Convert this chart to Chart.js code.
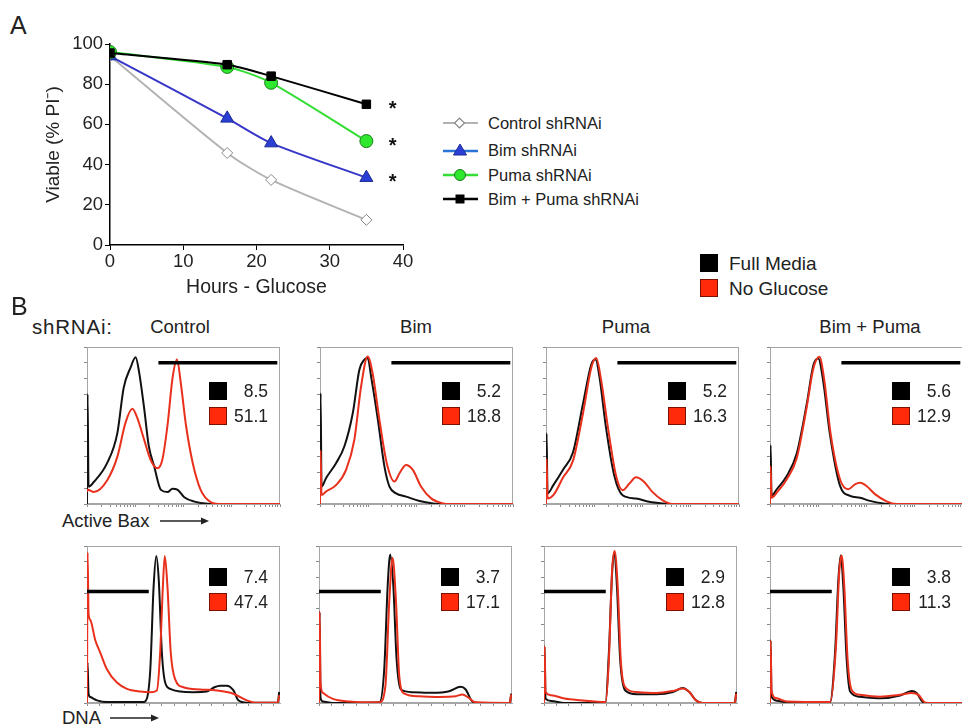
<!DOCTYPE html>
<html lang="en">
<head>
  <meta charset="UTF-8">
  <title>Bim / Puma shRNAi - glucose withdrawal</title>
  <script src="https://cdn.jsdelivr.net/npm/chart.js"></script>
  <style>
    body{
        margin:0;
        width:962px;
        height:726px;
        overflow:hidden;
        position:relative;
        background:#fff;
        font-family:"Liberation Sans", Arial, sans-serif;
        color:#222;
    }
    .abs{ position:absolute; }
    .lbl{ position:absolute; white-space:nowrap; line-height:1; }
    .title{ position:absolute; width:140px; text-align:center; font-size:18.5px; line-height:1; }
    .legA{ position:absolute; left:443px; font-size:16.5px; display:flex; align-items:center; height:20px; white-space:nowrap; }
    .legA svg{ margin-right:9px; }
    .sq{ position:absolute; width:16px; height:16px; border:1px solid #000; }
    .num{ position:absolute; width:50px; text-align:right; font-size:17.5px; line-height:1; }
  </style>
</head>
<body>
  <div class="lbl" style="left:10px;top:13px;font-size:25px">A</div>
  <canvas id="viability" class="abs" style="left:0;top:0" width="420" height="300"></canvas>

  <!-- legend panel A -->
  <div class="legA" style="top:113px">
    <svg width="36" height="16"><line x1="0" y1="8" x2="35" y2="8" stroke="#b3b3b3" stroke-width="2"/><rect x="13" y="4.5" width="7" height="7" transform="rotate(45 16.5 8)" fill="#fff" stroke="#888" stroke-width="1.2"/></svg>
    <span>Control shRNAi</span>
  </div>
  <div class="legA" style="top:140px">
    <svg width="36" height="16"><line x1="0" y1="9" x2="35" y2="9" stroke="#2a74d8" stroke-width="2.5"/><polygon points="17,2 23.5,13 10.5,13" fill="#2b3fd6" stroke="#1a2a90" stroke-width="1"/></svg>
    <span>Bim shRNAi</span>
  </div>
  <div class="legA" style="top:165px">
    <svg width="36" height="16"><line x1="0" y1="8" x2="35" y2="8" stroke="#33dd33" stroke-width="2.5"/><circle cx="17" cy="8" r="5.5" fill="#2ee82e" stroke="#1f7a1f" stroke-width="1"/></svg>
    <span>Puma shRNAi</span>
  </div>
  <div class="legA" style="top:189px">
    <svg width="36" height="16"><line x1="0" y1="8" x2="35" y2="8" stroke="#000" stroke-width="2.5"/><rect x="12.5" y="3.5" width="9" height="9" fill="#000"/></svg>
    <span>Bim + Puma shRNAi</span>
  </div>

  <!-- legend panel B -->
  <div class="abs" style="left:700px;top:254px;width:18px;height:18px;background:#000"></div>
  <div class="lbl" style="left:729px;top:254px;font-size:19px">Full Media</div>
  <div class="abs" style="left:700px;top:279px;width:16px;height:16px;background:#ff2a0a;border:1px solid #7a1000"></div>
  <div class="lbl" style="left:729px;top:279px;font-size:19px">No Glucose</div>

  <div class="lbl" style="left:11px;top:294px;font-size:25px">B</div>
  <div class="lbl" style="left:32px;top:317px;font-size:20.5px;letter-spacing:0.8px">shRNAi:</div>
  <div class="title" style="left:110px;top:318px">Control</div>
  <div class="title" style="left:346px;top:318px">Bim</div>
  <div class="title" style="left:556px;top:318px">Puma</div>
  <div class="title" style="left:800px;top:318px">Bim + Puma</div>

  <div class="lbl" style="left:62px;top:512px;font-size:18.5px">Active Bax</div>
  <svg class="abs" style="left:160px;top:515px" width="50" height="12"><line x1="0" y1="6" x2="44" y2="6" stroke="#222" stroke-width="1.3"/><polygon points="49,6 41,2.5 41,9.5" fill="#222"/></svg>
  <div class="lbl" style="left:62px;top:709px;font-size:18.5px">DNA</div>
  <svg class="abs" style="left:110px;top:712px" width="50" height="12"><line x1="0" y1="6" x2="44" y2="6" stroke="#222" stroke-width="1.3"/><polygon points="49,6 41,2.5 41,9.5" fill="#222"/></svg>

  <script>
    // ---- panel A: viability over time ----
    const hours = [0, 16, 22, 35];
    const controlViable = [94, 45.8, 32.4, 12.5];
    const bimViable = [94, 63, 50.7, 33.5];
    const pumaViable = [96, 88.6, 80.7, 51.7];
    const bimPumaViable = [95.5, 89.7, 84, 70];
    const starHour = 38.6;               // where the * marks sit
    const starViable = [70, 51.7, 33.5];

    // ---- panel B: % in gate (Full Media, No Glucose) ----
    const groups = ['Control', 'Bim', 'Puma', 'Bim + Puma'];
    const baxFullPct = ['8.5', '5.2', '5.2', '5.6'];
    const baxNoGlcPct = ['51.1', '18.8', '16.3', '12.9'];
    const dnaFullPct = ['7.4', '3.7', '2.9', '3.8'];
    const dnaNoGlcPct = ['47.4', '17.1', '12.8', '11.3'];

    // gates (channel 0-100, % of max)
    const baxGateX = [37, 98.6], baxGateY = 90;
    const dnaGateX = [0, 32], dnaGateY = 71;

    // histograms, [channel, % of max]
    const baxControlFull = [[0,0],[0.3,70],[0.8,11],[3.5,14],[10.4,26],[15.7,45],[19,74],[22.6,87],[25.2,93.5],[27,84],[29.6,61],[32,37],[34.8,24],[38.3,9],[41.7,7.6],[44.3,9.7],[47,9],[50.4,4.3],[55.7,1.5],[62.6,0.2],[70,0],[100,0]];
    const baxControlNoGlc = [[0,8],[0.5,9],[3.5,7.6],[10.4,15],[15.7,30],[20,52],[23.5,60.6],[26,55],[29.6,41],[33,28],[36.5,22.7],[39,28],[41.7,50],[44.3,80],[46.6,92],[48.7,76],[51.3,50],[54.8,26],[59,8.7],[64.3,1],[68,0],[100,0]];
    const baxBimFull = [[0,0],[0.3,70.6],[0.8,11],[3.1,16.4],[8.3,26],[12.6,36.6],[17,58],[20.4,85.5],[23,92],[24.7,93],[26.5,81],[30,53.6],[33.4,23.8],[36,11],[39.4,6.8],[44.6,4.7],[51.6,1.9],[58.5,0.4],[63,0],[100,0]];
    const baxBimNoGlc = [[0,0],[0.3,34],[0.8,5.7],[3.1,7.9],[8.3,12],[13.5,21.7],[17.8,40.9],[21.3,75],[24.7,94],[27.3,83],[30.8,53.6],[34.6,26],[38.6,14.3],[41.2,19.6],[44.6,24.9],[48.1,21.7],[52.4,11],[57.6,3.6],[63.7,0.4],[67,0],[100,0]];
    const baxPumaFull = [[0,0],[0.3,45],[0.8,6.7],[3.8,12],[8.9,22],[14,33],[19.2,64],[23.5,89],[25.7,92],[27.7,81],[31,49.5],[35.4,18],[39.7,5.6],[46.6,3.5],[53.4,1.5],[60.3,0.4],[65,0],[100,0]];
    const baxPumaNoGlc = [[0,0],[0.3,28.6],[0.8,3.5],[3.8,5.6],[8.9,17],[14,27.6],[19.2,58],[23.5,87],[26,93],[28.6,78.7],[32,49.5],[36.3,18],[39.7,8.8],[43.2,13],[46.6,17],[50.9,14],[55.1,7.7],[60.3,2.5],[65.4,0],[100,0]];
    const baxBimPumaFull = [[0,0],[0.3,37.5],[0.8,5.2],[3.5,9.4],[8.6,17.7],[13.8,32],[19,63.5],[22.5,88.5],[25,92.7],[27.6,78],[31,44.8],[36.3,11.5],[41.5,5.2],[46.6,4],[51.8,2],[58.7,0.4],[63,0],[100,0]];
    const baxBimPumaNoGlc = [[0,0],[0.3,24],[0.8,4],[3.5,7.3],[8.6,15.6],[13.8,29],[19,61.5],[22.5,86.5],[25.6,93.8],[28,80],[31.4,44.8],[36.3,15.6],[40.6,9.4],[44,12.5],[46.6,13.5],[50,11.5],[54.4,6.3],[60.4,1.7],[65.6,0],[100,0]];

    const dnaControlFull = [[0,0],[0.3,25.7],[0.8,5.9],[1.7,3.8],[5.2,1.7],[10.3,0.6],[29.3,0.6],[31,2.7],[32.8,21.5],[34.5,73.8],[35.9,93.7],[37.2,78],[38.8,32],[40.5,13],[43.1,9],[48.3,7.3],[55.2,6.9],[62,7.3],[66,10],[69,11],[72.4,11],[75.9,8],[78.4,1.7],[82.8,0.2],[98.8,0.2],[99.6,7]];
    const dnaControlNoGlc = [[0,0],[0.3,96],[0.8,57],[1.7,53],[4.3,40],[6.9,32],[10.3,21.5],[15.5,13],[20.7,9],[27.6,7.3],[32.8,6.9],[36.2,8],[37.9,32],[39.3,73.8],[40.3,93.7],[41.7,73.8],[43.4,32],[45.7,15],[50,10],[58.6,8.6],[67.2,8],[75.9,5.9],[82.8,1.7],[88,0.2],[98.8,0.2],[99.6,5]];
    const dnaBimFull = [[0,0],[0.3,58],[0.8,3.2],[2,1],[7.2,0],[31.3,0.4],[33.8,21.5],[35.6,75],[36.9,94.6],[38.5,75],[40.2,28],[42.4,8.6],[48.5,6.9],[58.8,6.5],[67.4,7.5],[73.4,10.3],[76,8.6],[79.4,1],[82.8,0],[98.8,0],[99.6,6]];
    const dnaBimNoGlc = [[0,0],[0.3,58],[0.8,13],[2,6.5],[7.2,2.6],[15.8,1],[31.3,0.4],[34.4,10.8],[36.4,64.5],[38.1,92.5],[39.9,64.5],[41.6,17],[44.2,6],[51.9,4.3],[62.2,3.9],[70.8,4.3],[74.2,5.4],[77.7,3.2],[81.1,0.4],[98.8,0],[99.6,5.4]];
    const dnaPumaFull = [[0,0],[0.3,36],[0.8,2.8],[3.7,1.3],[10.6,0],[31.9,0.6],[33.6,31.6],[35.3,83],[36.5,95.7],[37.8,74],[39.5,27],[42.1,8],[48,5.6],[58.3,5.6],[66.8,7],[71.9,9.6],[75.3,7],[78.7,1.7],[82.1,0],[98.8,0],[99.6,7]];
    const dnaPumaNoGlc = [[0,0],[0.3,36],[0.8,7],[3.7,5],[10.6,2.8],[19,1.7],[31.9,0.6],[33.6,27],[35.3,85],[36.6,96.8],[38.2,74],[39.9,25],[42.9,9],[48,7],[58.3,6.4],[66.8,7.7],[71.9,9.2],[75.3,7],[78.7,1.7],[82.1,0],[98.8,0],[99.6,6]];
    const dnaBimPumaFull = [[0,0],[0.3,40],[0.8,4],[3.5,1.5],[8.6,0.4],[31.1,0.4],[33.7,32],[35.4,78],[36.6,94],[38,74],[39.7,28],[41.5,7.3],[46.6,4],[57,3],[67.4,4.8],[73.4,7.7],[76,6.3],[79.4,0.4],[82,0],[100,0]];
    const dnaBimPumaNoGlc = [[0,0],[0.3,39.6],[0.8,7.3],[3.5,3],[8.6,1],[31.1,0.6],[34.2,36.5],[35.9,84],[37.1,94],[38.5,74],[40.2,28],[42.3,8.3],[46.6,5.2],[57,4],[67.4,5.2],[73.4,6.3],[76.9,5.2],[80.3,0.4],[83,0],[100,0]];

    Chart.defaults.font.family = '"Liberation Sans", Arial, sans-serif';
    Chart.defaults.color = '#222';

    const RED = '#e8301c';
    const toXY = (xs, ys) => xs.map((x, i) => ({ x: x, y: ys[i] }));
    const pairs = arr => arr.map(p => ({ x: p[0], y: p[1] }));

    // the little * next to the last time point
    const starPlugin = {
      id: 'stars',
      afterDatasetsDraw(chart) {
        const { ctx, scales } = chart;
        ctx.save();
        ctx.fillStyle = '#111';
        ctx.font = 'bold 20px "Liberation Sans", Arial, sans-serif';
        ctx.textAlign = 'center';
        ctx.textBaseline = 'middle';
        starViable.forEach(v => {
          ctx.fillText('*', scales.x.getPixelForValue(starHour), scales.y.getPixelForValue(v) + 5);
        });
        ctx.restore();
      }
    };

    const ptBase = { borderWidth: 2, tension: 0.25, pointBorderWidth: 1 };
    new Chart(document.getElementById('viability'), {
      type: 'line',
      data: {
        datasets: [
          Object.assign({}, ptBase, {
            label: 'Bim + Puma shRNAi', data: toXY(hours, bimPumaViable), order: 0,
            borderColor: '#000', pointStyle: 'rect', pointRadius: 6,
            pointBackgroundColor: '#000', pointBorderColor: '#000'
          }),
          Object.assign({}, ptBase, {
            label: 'Puma shRNAi', data: toXY(hours, pumaViable), order: 1,
            borderColor: '#33dd33', pointStyle: 'circle', pointRadius: 6.5,
            pointBackgroundColor: '#2ee82e', pointBorderColor: '#1f7a1f'
          }),
          Object.assign({}, ptBase, {
            label: 'Bim shRNAi', data: toXY(hours, bimViable), order: 2,
            borderColor: '#3636c8', pointStyle: 'triangle', pointRadius: 7.5,
            pointBackgroundColor: '#2b3fd6', pointBorderColor: '#1a2a90'
          }),
          Object.assign({}, ptBase, {
            label: 'Control shRNAi', data: toXY(hours, controlViable), order: 3,
            borderColor: '#b3b3b3', pointStyle: 'rectRot', pointRadius: 5.5,
            pointBackgroundColor: '#fff', pointBorderColor: '#888'
          })
        ]
      },
      options: {
        responsive: false,
        animation: false,
        layout: { padding: { top: 44, right: 17, left: 42, bottom: 0 } },
        plugins: { legend: { display: false }, tooltip: { enabled: false } },
        scales: {
          x: {
            type: 'linear', min: 0, max: 40,
            ticks: { stepSize: 10, padding: 1, font: { size: 18.5 } },
            grid: { drawOnChartArea: false, tickLength: 5, color: '#000' },
            border: { color: '#000', width: 1.5 },
            title: { display: true, text: 'Hours - Glucose', font: { size: 19.5 }, padding: { top: 0, bottom: 1 } },
            afterFit(s) { s.height = 55; }
          },
          y: {
            min: 0, max: 100,
            ticks: { stepSize: 20, padding: 2, font: { size: 18.5 } },
            grid: { drawOnChartArea: false, tickLength: 5, color: '#000' },
            border: { color: '#000', width: 1.5 },
            title: { display: true, text: 'Viable (% PI\u207B)', font: { size: 19 }, padding: { top: 0, bottom: 0 } },
            afterFit(s) { s.width = 68; }
          }
        }
      },
      plugins: [starPlugin]
    });

    // ---- panel B histograms ----
    const histW = 193, histH = 157;
    const rowTop = [347, 546];
    const colLeft = [[87, 320, 546, 770], [87, 319, 544, 770]];

    const framePlugin = {
      id: 'frame',
      beforeDatasetsDraw(chart) {
        const { ctx, chartArea: a } = chart;
        ctx.save();
        ctx.strokeStyle = '#a6a6a6';
        ctx.lineWidth = 1;
        ctx.strokeRect(a.left + 0.5, a.top + 0.5, a.width - 1, a.height - 1);
        ctx.restore();
      }
    };

    function logTicks(scale) {
      const t = [];
      for (let d = 0; d < 4; d++) for (let m = 1; m < 10; m++) t.push({ value: (d + Math.log10(m)) * 25 });
      t.push({ value: 100 });
      scale.ticks = t;
    }
    function linTicks(scale) {
      const t = [];
      for (let v = 0; v <= 100; v += 6.45) t.push({ value: v });
      scale.ticks = t;
    }

    function histChart(left, top, full, noGlc, gateX, gateY, tickFn) {
      const cv = document.createElement('canvas');
      cv.width = histW + 7;
      cv.height = histH + 7;
      cv.className = 'abs';
      cv.style.left = (left - 5) + 'px';
      cv.style.top = (top - 2) + 'px';
      document.body.appendChild(cv);
      const lineOpts = { pointRadius: 0, borderWidth: 2, cubicInterpolationMode: 'monotone' };
      new Chart(cv, {
        type: 'line',
        data: {
          datasets: [
            { data: gateX.map(x => ({ x: x, y: gateY })), borderColor: '#000', borderWidth: 3.5, pointRadius: 0 },
            Object.assign({ data: pairs(noGlc), borderColor: RED }, lineOpts),
            Object.assign({ data: pairs(full), borderColor: '#111' }, lineOpts)
          ]
        },
        options: {
          responsive: false,
          animation: false,
          layout: { padding: { top: 2, right: 2, left: 0, bottom: 0 } },
          plugins: { legend: { display: false }, tooltip: { enabled: false } },
          scales: {
            x: {
              type: 'linear', min: 0, max: 100,
              ticks: { display: false },
              grid: { drawOnChartArea: false, tickLength: 3, color: '#888' },
              border: { color: '#a6a6a6' },
              afterBuildTicks: tickFn,
              afterFit(s) { s.height = 5; }
            },
            y: {
              min: 0, max: 100,
              ticks: { display: false, stepSize: 10 },
              grid: { drawOnChartArea: false, tickLength: 3, color: '#888' },
              border: { color: '#a6a6a6' },
              afterFit(s) { s.width = 5; }
            }
          }
        },
        plugins: [framePlugin]
      });
    }

    function insetLegend(left, top, dy, fullPct, noGlcPct) {
      const rows = [[fullPct, '#000', '#000'], [noGlcPct, '#ff2a0a', '#7a1000']];
      rows.forEach((r, i) => {
        const y = top + dy + i * 25;
        const sq = document.createElement('div');
        sq.className = 'sq';
        sq.style.left = (left + 122) + 'px';
        sq.style.top = y + 'px';
        sq.style.background = r[1];
        sq.style.borderColor = r[2];
        document.body.appendChild(sq);
        const n = document.createElement('div');
        n.className = 'num';
        n.textContent = r[0];
        n.style.left = (left + 131) + 'px';
        n.style.top = (y + 1) + 'px';
        document.body.appendChild(n);
      });
    }

    const baxSets = [[baxControlFull, baxControlNoGlc], [baxBimFull, baxBimNoGlc], [baxPumaFull, baxPumaNoGlc], [baxBimPumaFull, baxBimPumaNoGlc]];
    const dnaSets = [[dnaControlFull, dnaControlNoGlc], [dnaBimFull, dnaBimNoGlc], [dnaPumaFull, dnaPumaNoGlc], [dnaBimPumaFull, dnaBimPumaNoGlc]];

    groups.forEach((g, i) => {
      histChart(colLeft[0][i], rowTop[0], baxSets[i][0], baxSets[i][1], baxGateX, baxGateY, logTicks);
      insetLegend(colLeft[0][i], rowTop[0], 35, baxFullPct[i], baxNoGlcPct[i]);
      histChart(colLeft[1][i], rowTop[1], dnaSets[i][0], dnaSets[i][1], dnaGateX, dnaGateY, linTicks);
      insetLegend(colLeft[1][i], rowTop[1], 22, dnaFullPct[i], dnaNoGlcPct[i]);
    });
  </script>
</body>
</html>
